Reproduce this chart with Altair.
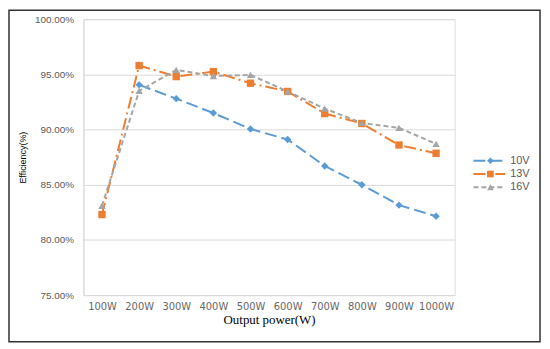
import altair as alt
import pandas as pd

categories = ["100W", "200W", "300W", "400W", "500W", "600W", "700W", "800W", "900W", "1000W"]
series = ["10V", "13V", "16V"]
v10 = [None, 94.05, 92.8, 91.5, 90.05, 89.1, 86.7, 85.0, 83.15, 82.15]
v13 = [82.3, 95.8, 94.8, 95.25, 94.2, 93.45, 91.45, 90.55, 88.6, 87.85]
v16 = [83.1, 93.5, 95.4, 94.85, 94.95, 93.45, 91.9, 90.6, 90.15, 88.7]
y_ticks = [0.75, 0.80, 0.85, 0.90, 0.95, 1.00]

colors = ["#5B9BD5", "#ED7D31", "#A5A5A5"]
dashes = [[12, 5], [12, 4, 2, 4], [5, 3]]
shapes = ["diamond", "square", "triangle-up"]

rows = []
for name, vals in zip(series, [v10, v13, v16]):
    for c, v in zip(categories, vals):
        if v is not None:
            rows.append({"power": c, "series": name, "eff": v / 100.0})
df = pd.DataFrame(rows)
leg_df = pd.DataFrame({"series": series})

color = alt.Color("series:N", scale=alt.Scale(domain=series, range=colors), legend=None)
dash = alt.StrokeDash("series:N", scale=alt.Scale(domain=series, range=dashes), legend=None)
shape = alt.Shape("series:N", scale=alt.Scale(domain=series, range=shapes), legend=None)

x = alt.X("power:N", sort=categories,
          scale=alt.Scale(paddingInner=0, paddingOuter=0),
          axis=alt.Axis(title="Output power(W)", labelAngle=0, ticks=False, domain=False,
                        grid=False, labelFont="DejaVu Sans", labelFontSize=10,
                        labelColor="#666666", labelPadding=6,
                        titleFont="Liberation Serif", titleFontSize=13,
                        titleFontWeight="normal", titleColor="#000000", titlePadding=3))
y = alt.Y("eff:Q", scale=alt.Scale(domain=[0.75, 1.0]),
          axis=alt.Axis(title="Efficiency(%)", values=y_ticks, format=".2%", ticks=False,
                        domain=True, domainColor="#D9D9D9", gridColor="#D9D9D9",
                        labelFont="Liberation Sans", labelFontSize=10, labelColor="#595959",
                        labelPadding=10, titleFont="Liberation Sans", titleFontSize=9,
                        titleFontWeight="normal", titleColor="#000000", titlePadding=7))

base = alt.Chart(df)
lines = base.mark_line(strokeWidth=2).encode(x=x, y=y, color=color, strokeDash=dash,
                                               detail="series:N")
points = base.mark_point(filled=True, opacity=1, size=55).encode(x=x, y=y, color=color, shape=shape)
main = alt.layer(lines, points)

ly = alt.Y("series:N", scale=alt.Scale(domain=series, range=[136, 176], padding=0), axis=None)
lbase = alt.Chart(leg_df)
lrule = lbase.mark_rule(strokeWidth=2).encode(x=alt.value(393), x2=alt.value(425), y=ly,
                                              color=color, strokeDash=dash)
lpt = lbase.mark_point(filled=True, opacity=1, size=45).encode(x=alt.value(410), y=ly,
                                                               color=color, shape=shape)
ltxt = lbase.mark_text(align="left", baseline="middle", font="Liberation Sans", fontSize=11,
                       color="#595959").encode(x=alt.value(430), y=ly, text="series:N")
legend = alt.layer(lrule, lpt, ltxt)

border = alt.Chart(alt.Data(values=[{}])).mark_rect(fill=None, stroke="#333333",
                                                    strokeWidth=1.5).encode(
    x=alt.value(-75), x2=alt.value(460), y=alt.value(-9), y2=alt.value(325))

chart = alt.layer(border, main, legend).resolve_scale(y="independent").properties(
    width=374, height=278,
    autosize=alt.AutoSizeParams(type="none"),
    padding={"left": 76, "top": 10, "right": 88, "bottom": 50},
).configure_view(stroke=None).configure(background="#ffffff")

chart.save("out.html", embed_options={"renderer": "svg", "actions": False})
